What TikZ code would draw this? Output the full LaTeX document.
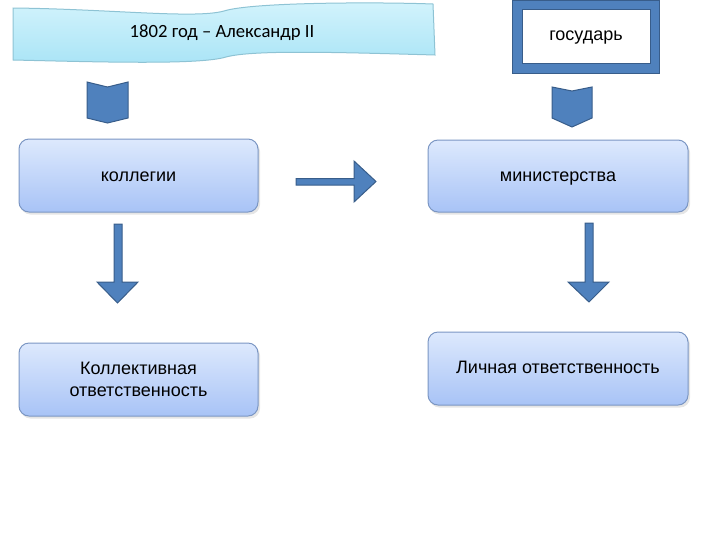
\documentclass[tikz,border=0pt]{standalone}
\usepackage{fontspec}
\setmainfont{Liberation Sans}
\newfontfamily\calfont{Carlito}
\usepackage{tikz}

\definecolor{arrowfill}{HTML}{4F81BD}
\definecolor{arrowline}{HTML}{385D8A}
\definecolor{boxtop}{HTML}{DDE9FD}
\definecolor{boxbottom}{HTML}{A8C3F6}
\definecolor{boxline}{HTML}{7B96C3}
\definecolor{wavetop}{HTML}{D2F3FC}
\definecolor{wavebottom}{HTML}{A9E4F6}
\definecolor{waveline}{HTML}{8EC3D4}

\begin{document}
\begin{tikzpicture}[x=0.75pt,y=0.75pt,yscale=-1,xscale=1,
	blockarrow/.style={fill=arrowfill,draw=arrowline,line width=0.75},
	roundbox/.style={top color=boxtop,bottom color=boxbottom,draw=boxline,line width=0.75,rounded corners=7.5pt},
	boxshadow/.style={fill=black,opacity=0.10,rounded corners=7.5pt},
	boxtext/.style={font=\fontsize{13.5}{16.5}\selectfont,align=center},
	oneline/.style={boxtext,text height=9.7pt,text depth=2.8pt}]
	\useasboundingbox (0,0) rectangle (720,540);
	
	%Shape: Wave [id:dp3815520947716]
	\draw [top color=wavetop,bottom color=wavebottom,draw=waveline,line width=0.75]  (13,8) .. controls (110,9) and (195,19) .. (224,11) .. controls (252,2) and (380,2) .. (433,4) -- (435,55) .. controls (330,52) and (252,50) .. (226,57) .. controls (200,65) and (100,62) .. (13,60) -- cycle ;
	%Shape: Rectangle [id:dp5170264381924]
	\draw [blockarrow]  (512,0) -- (659,0) -- (659,73) -- (512,73) -- cycle ;
	%Shape: Rectangle [id:dp6092755413382]
	\draw [fill=white,draw=arrowline,line width=0.75]  (522,9) -- (650,9) -- (650,63) -- (522,63) -- cycle ;
	
	%Shape: Chevron [id:dp2241876530915]
	\draw [blockarrow]  (87,82) -- (107.5,87) -- (128,82) -- (128,118) -- (107.5,123) -- (87,118) -- cycle ;
	%Shape: Chevron [id:dp7756201948342]
	\draw [blockarrow]  (552,87) -- (572,91) -- (592,87) -- (592,118) -- (572,127) -- (552,118) -- cycle ;
	
	%Shape: Rounded Rect [id:dp1429086627310]
	\fill [boxshadow]  (20.5,141.5) rectangle (260,214.5) ;
	\draw [roundbox]  (19,139) rectangle (258,212) ;
	%Shape: Rounded Rect [id:dp9031185527714]
	\fill [boxshadow]  (429.5,142.5) rectangle (690,214.5) ;
	\draw [roundbox]  (428,140) rectangle (688,212) ;
	%Shape: Rounded Rect [id:dp4467305918251]
	\fill [boxshadow]  (20.5,345.5) rectangle (260,418.5) ;
	\draw [roundbox]  (19,343) rectangle (258,416) ;
	%Shape: Rounded Rect [id:dp8352719064473]
	\fill [boxshadow]  (429.5,334.5) rectangle (690,407.5) ;
	\draw [roundbox]  (428,332) rectangle (688,405) ;
	
	%Right Arrow [id:dp6618203479215]
	\draw [blockarrow]  (296,178.5) -- (354,178.5) -- (354,161) -- (376,181.5) -- (354,202) -- (354,185) -- (296,185) -- cycle ;
	%Down Arrow [id:dp3390571826644]
	\draw [blockarrow]  (114,224) -- (122,224) -- (122,282) -- (138,282) -- (117.5,303) -- (97,282) -- (114,282) -- cycle ;
	%Down Arrow [id:dp0725318846193]
	\draw [blockarrow]  (585,223) -- (593,223) -- (593,282) -- (609,282) -- (589,302) -- (568,282) -- (585,282) -- cycle ;
	
	% Text Node
	\draw (222,33) node [font=\calfont\fontsize{14}{16}\selectfont,text height=10pt,text depth=3pt] (banner) {1802 год – Александр II};
	% Text Node
	\draw (586,36) node [oneline] (gos) {государь};
	% Text Node
	\draw (138.5,176.5) node [oneline] (kol) {коллегии};
	% Text Node
	\draw (558,176.5) node [oneline] (min) {министерства};
	% Text Node
	\draw (138.5,379.5) node [boxtext] (kolotv) {Коллективная\\ответственность};
	% Text Node
	\draw (558,369) node [oneline] (lich) {Личная ответственность};
	
\end{tikzpicture}
\end{document}
